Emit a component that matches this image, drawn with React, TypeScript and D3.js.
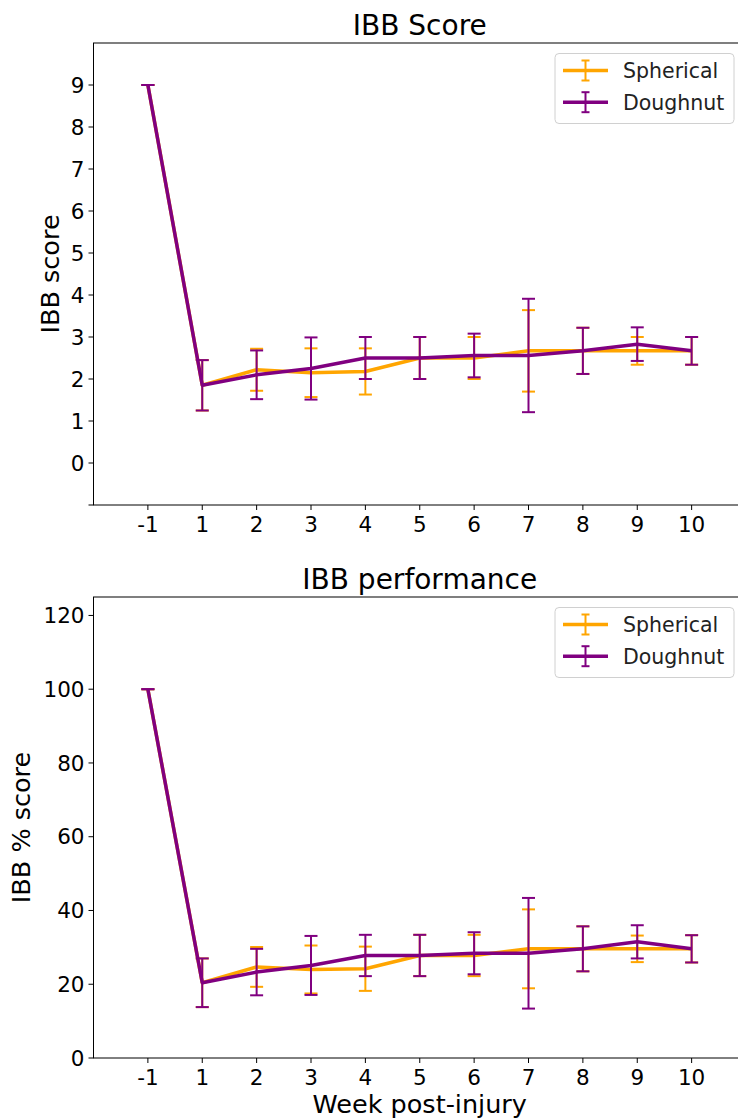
import React from "react";
import * as d3 from "d3";

const weeks = ["-1", "1", "2", "3", "4", "5", "6", "7", "8", "9", "10"];

const sphericalScore = [9, 1.85, 2.22, 2.15, 2.18, 2.5, 2.5, 2.67, 2.67, 2.67, 2.67];
const sphericalScoreErr = [0, 0.6, 0.5, 0.58, 0.55, 0.5, 0.5, 0.97, 0.55, 0.33, 0.33];
const doughnutScore = [9, 1.85, 2.1, 2.25, 2.5, 2.5, 2.56, 2.56, 2.67, 2.83, 2.67];
const doughnutScoreErr = [0, 0.6, 0.58, 0.74, 0.5, 0.5, 0.52, 1.35, 0.55, 0.4, 0.33];

const sphericalPerf = [100, 20.4, 24.7, 24.0, 24.2, 27.8, 27.8, 29.6, 29.6, 29.6, 29.6];
const sphericalPerfErr = [0, 6.6, 5.4, 6.5, 6.0, 5.6, 5.6, 10.7, 6.1, 3.6, 3.7];
const doughnutPerf = [100, 20.4, 23.3, 25.1, 27.8, 27.8, 28.4, 28.4, 29.6, 31.5, 29.6];
const doughnutPerfErr = [0, 6.6, 6.3, 8.0, 5.6, 5.6, 5.7, 15.0, 6.1, 4.5, 3.7];

const scoreTicks = [-1, 0, 1, 2, 3, 4, 5, 6, 7, 8, 9];
const scoreTickLabels = ["", "0", "1", "2", "3", "4", "5", "6", "7", "8", "9"];
const perfTicks = [0, 20, 40, 60, 80, 100, 120];

const seriesNames = ["Spherical", "Doughnut"];
const seriesColors = ["orange", "purple"];

const FONT = "DejaVu Sans, sans-serif";

type PanelProps = {
  top: number;
  bottom: number;
  yDomain: [number, number];
  yTicks: number[];
  yTickLabels: string[];
  series: { values: number[]; errs: number[] }[];
  title: string;
  ylabel: string;
  ylabelX: number;
  xlabel?: string;
};

function Panel(p: PanelProps) {
  const left = 93.5;
  const right = 746;
  const x = d3.scaleLinear().domain([-1, 11]).range([left, right]);
  const y = d3.scaleLinear().domain(p.yDomain).range([p.bottom, p.top]);
  const line = d3
    .line<number>()
    .x((_, i) => x(i))
    .y((v) => y(v));
  const cap = 6.5;
  const midX = (left + right) / 2;
  const midY = (p.top + p.bottom) / 2;
  const legTop = p.top + 10.5;
  return (
    <g>
      <text x={midX} y={p.top - 8} textAnchor="middle" fontSize={28} fontFamily={FONT}>
        {p.title}
      </text>
      <rect x={left} y={p.top} width={right - left} height={p.bottom - p.top} fill="none" stroke="#000" strokeWidth={1} />
      {p.yTicks.map((t, i) => (
        <g key={"y" + i}>
          <line x1={left - 5} x2={left} y1={y(t)} y2={y(t)} stroke="#000" strokeWidth={1} />
          <text x={left - 9} y={y(t)} dy="0.36em" textAnchor="end" fontSize={21.5} fontFamily={FONT} fill="#000">
            {p.yTickLabels[i]}
          </text>
        </g>
      ))}
      {weeks.map((w, i) => (
        <g key={"x" + i}>
          <line x1={x(i)} x2={x(i)} y1={p.bottom} y2={p.bottom + 5} stroke="#000" strokeWidth={1} />
          <text x={x(i)} y={p.bottom + 27} textAnchor="middle" fontSize={21.5} fontFamily={FONT} fill="#000">
            {w}
          </text>
        </g>
      ))}
      <text
        transform={`translate(${p.ylabelX},${midY}) rotate(-90)`}
        textAnchor="middle"
        fontSize={25.5}
        fontFamily={FONT}
        dy="0.36em"
      >
        {p.ylabel}
      </text>
      {p.xlabel && (
        <text x={midX} y={p.bottom + 55} textAnchor="middle" fontSize={25.5} fontFamily={FONT}>
          {p.xlabel}
        </text>
      )}
      {p.series.map((s, si) => (
        <g key={"s" + si}>
          {s.values.map((v, i) => {
            const e = s.errs[i];
            const cx = x(i);
            return (
              <g key={i} stroke={seriesColors[si]} strokeWidth={2}>
                <line x1={cx} x2={cx} y1={y(v - e)} y2={y(v + e)} />
                <line x1={cx - cap} x2={cx + cap} y1={y(v - e)} y2={y(v - e)} />
                <line x1={cx - cap} x2={cx + cap} y1={y(v + e)} y2={y(v + e)} />
              </g>
            );
          })}
          <path d={line(s.values) || ""} fill="none" stroke={seriesColors[si]} strokeWidth={3.5} strokeLinejoin="round" />
        </g>
      ))}
      <rect x={555} y={legTop} width={179} height={70} rx={4} fill="white" fillOpacity={0.8} stroke="#d0d0d0" strokeWidth={1} />
      {seriesNames.map((n, i) => {
        const ry = legTop + 17 + i * 31.7;
        return (
          <g key={n}>
            <g stroke={seriesColors[i]} strokeWidth={2}>
              <line x1={563} x2={608} y1={ry} y2={ry} strokeWidth={3.5} />
              <line x1={585.5} x2={585.5} y1={ry - 10} y2={ry + 10} />
              <line x1={581.5} x2={589.5} y1={ry - 10} y2={ry - 10} />
              <line x1={581.5} x2={589.5} y1={ry + 10} y2={ry + 10} />
            </g>
            <text x={623} y={ry} dy="0.36em" fontSize={20.5} fontFamily={FONT} fill="#222">
              {n}
            </text>
          </g>
        );
      })}
    </g>
  );
}

export default function App() {
  return (
    <svg
      width={738}
      height={1119}
      style={{ position: "absolute", left: 0, top: 0, background: "white" }}
    >
      <rect width={738} height={1119} fill="white" />
      <Panel
        top={43}
        bottom={505}
        yDomain={[-1, 10]}
        yTicks={scoreTicks}
        yTickLabels={scoreTickLabels}
        series={[
          { values: sphericalScore, errs: sphericalScoreErr },
          { values: doughnutScore, errs: doughnutScoreErr },
        ]}
        title="IBB Score"
        ylabel="IBB score"
        ylabelX={50}
      />
      <Panel
        top={597}
        bottom={1058}
        yDomain={[0, 125]}
        yTicks={perfTicks}
        yTickLabels={perfTicks.map(String)}
        series={[
          { values: sphericalPerf, errs: sphericalPerfErr },
          { values: doughnutPerf, errs: doughnutPerfErr },
        ]}
        title="IBB performance"
        ylabel="IBB % score"
        ylabelX={21}
        xlabel="Week post-injury"
      />
    </svg>
  );
}
